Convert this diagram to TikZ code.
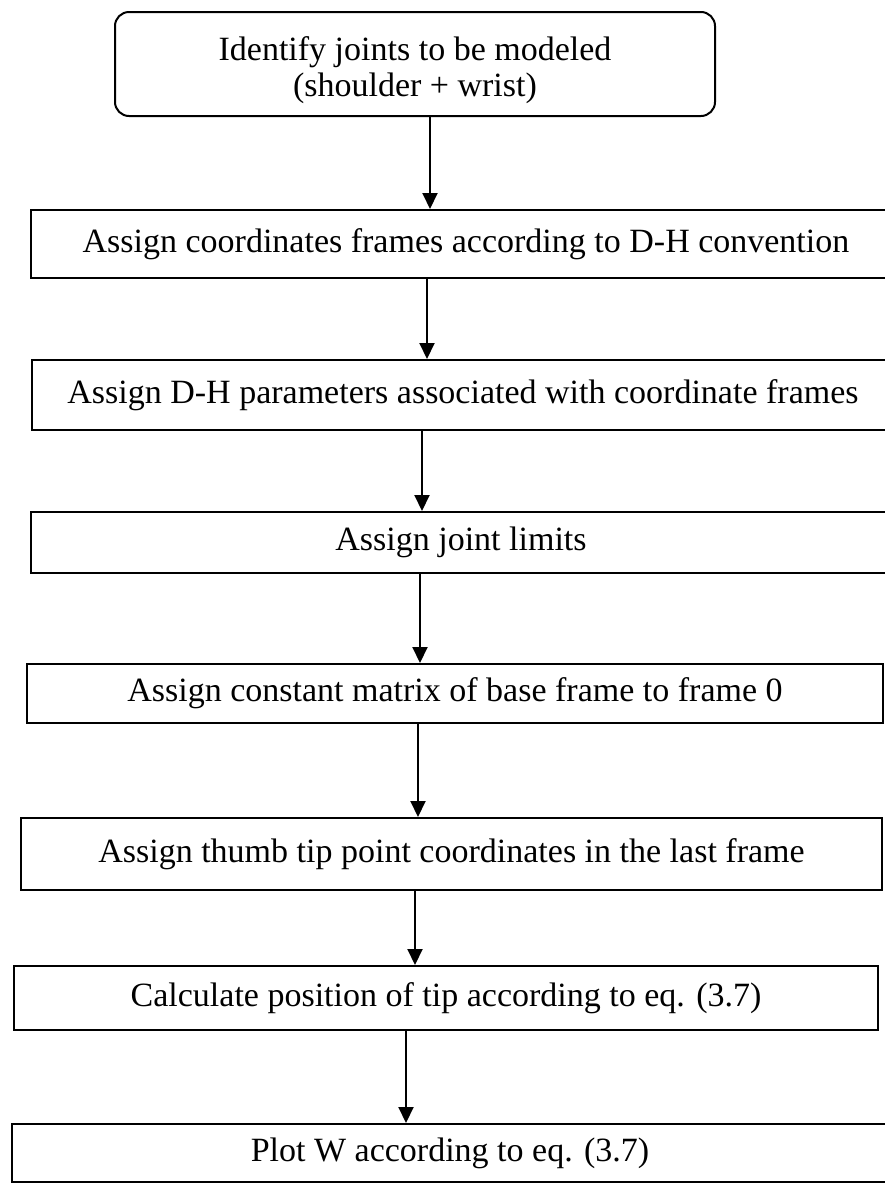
\documentclass[tikz,border=0pt]{standalone}
\usepackage{fontspec}
\setmainfont{Liberation Serif}
\usetikzlibrary{arrows.meta}
\begin{document}
\begin{tikzpicture}[x=1pt,y=-1pt,
  every node/.style={font=\fontsize{34}{36}\selectfont, inner sep=0pt, line width=2pt},
  stepbox/.style={draw, rectangle, minimum height=#1},
  arr/.style={line width=2pt, -{Triangle[length=16pt,width=15pt]}}]
\useasboundingbox (0,0) rectangle (885,1184);
\node[draw, rounded corners=14pt, minimum width=600pt, minimum height=104pt, align=center] (b1) at (415,64)
  {\rule{0pt}{37pt}Identify joints to be modeled\\(shoulder + wrist)};
\node[stepbox=68pt, minimum width=870pt] (b2) at (466,244) {Assign coordinates frames according to D-H convention};
\node[stepbox=70pt, minimum width=862pt] (b3) at (463,395) {Assign D-H parameters associated with coordinate frames};
\node[stepbox=61pt, minimum width=860pt] (b4) at (461,542.5) {Assign joint limits};
\node[stepbox=59pt, minimum width=856pt] (b5) at (455,693.5) {Assign constant matrix of base frame to frame 0};
\node[stepbox=72pt, minimum width=861pt] (b6) at (451.5,854) {Assign thumb tip point coordinates in the last frame};
\node[stepbox=64pt, minimum width=864pt] (b7) at (446,998) {Calculate position of tip according to eq. (3.7)};
\node[stepbox=58pt, minimum width=876pt] (b8) at (450,1153) {Plot W according to eq. (3.7)};
\draw[arr] ([xshift=15pt]b1.south) -- ([xshift=-36pt]b2.north);
\draw[arr] ([xshift=-39pt]b2.south) -- ([xshift=-36pt]b3.north);
\draw[arr] ([xshift=-41pt]b3.south) -- ([xshift=-39pt]b4.north);
\draw[arr] ([xshift=-41pt]b4.south) -- ([xshift=-35pt]b5.north);
\draw[arr] ([xshift=-37pt]b5.south) -- ([xshift=-33.5pt]b6.north);
\draw[arr] ([xshift=-36.5pt]b6.south) -- ([xshift=-31pt]b7.north);
\draw[arr] ([xshift=-40pt]b7.south) -- ([xshift=-44pt]b8.north);
\end{tikzpicture}
\end{document}
